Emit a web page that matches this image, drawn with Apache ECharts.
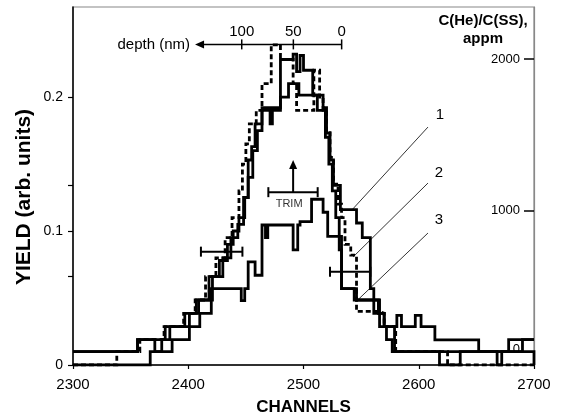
<!DOCTYPE html>
<html><head><meta charset="utf-8">
<script src="https://cdn.jsdelivr.net/npm/echarts@6/dist/echarts.min.js"></script>
<style>html,body{margin:0;padding:0;background:#fff}#c{width:561px;height:415px}</style>
</head><body><div id="c"></div>
<script>
// ---- data ----
const xTicks = [2300, 2400, 2500, 2600, 2700];
const yLeftLabels = [0, 0.1, 0.2];
const yLeftTicks = [0, 0.066, 0.1, 0.134, 0.2];
const yRightLabels = [0, 1000, 2000];
const yRightTicks = [1000, 2000];

// curve 1 (solid)
const c1x = [2300,2356,2380,2397,2407,2418,2427,2434,2439,2444,2449,2452,2455,2458,2464,2471,2473,2480,2491,2494,2497,2500,2508,2517,2520,2523,2526,2532,2546,2551,2558,2561,2565,2570,2581,2585,2597,2602,2614,2652,2678,2700];
const c1y = [0.01,0.019,0.0286,0.0386,0.0485,0.066,0.078,0.09,0.1,0.11,0.125,0.153,0.163,0.18,0.192,0.18,0.192,0.228,0.232,0.219,0.231,0.22,0.2015,0.192,0.173,0.153,0.134,0.116,0.106,0.095,0.057,0.0485,0.0386,0.0286,0.037,0.0286,0.037,0.0286,0.0187,0.01,0.019,0.019];
// curve 2 (dashed)
const c2x = [2300,2338,2358,2379,2396,2406,2415,2424,2432,2438,2444,2447,2450,2453,2459,2464,2472,2480,2491,2494,2509,2514,2517,2520,2523,2526,2530,2533,2536,2541,2546,2565,2570,2580,2625,2700];
const c2y = [0,0.01,0.019,0.0286,0.0386,0.0485,0.066,0.08,0.095,0.11,0.13,0.15,0.165,0.18,0.19,0.21,0.239,0.228,0.21,0.19,0.22,0.2,0.19,0.175,0.155,0.135,0.12,0.11,0.09,0.082,0.04,0.0386,0.0286,0.01,0,0];
// curve 3 (solid)
const c3x = [2300,2356,2371,2377,2384,2401,2409,2421,2430,2437,2443,2448,2452,2456,2460,2464,2480,2487,2496,2512,2519,2522,2525,2528,2531,2533,2544,2566,2570,2579,2618,2636,2668,2672,2690,2700];
const c3y = [0.01,0.019,0.01,0.019,0.0286,0.0386,0.0485,0.066,0.08,0.095,0.105,0.125,0.14,0.16,0.175,0.19,0.2,0.21,0.2015,0.19,0.17,0.15,0.13,0.11,0.086,0.057,0.0485,0.0386,0.0286,0.01,0,0.01,0,0.01,0.019,0.019];
// TRIM profile (solid)
const trimX = [2300,2367,2386,2401,2410,2420,2446,2449,2452,2458,2464,2467,2469,2491,2495,2497,2507,2517,2521,2533,2546,2561,2566,2572,2577,2700];
const trimY = [0,0.01,0.019,0.0286,0.0386,0.057,0.048,0.057,0.077,0.067,0.1045,0.095,0.1045,0.086,0.1045,0.107,0.1237,0.114,0.096,0.057,0.0485,0.0386,0.0286,0.019,0.01,0];

// annotations
const depthTickLabels = ['100', '50', '0'];
const depthTickChannels = [2446.4, 2491.2, 2533.1];
const depthLine = [2405.9, 2533.1, 0.2393];
const depthText = 'depth (nm)';
const errBars = [[2411, 2447, 0.0846], [2469.5, 2512.3, 0.129], [2523, 2558, 0.0696]];
const trimArrow = [2491, 0.129, 0.153];
const trimText = 'TRIM';
const curveNames = ['1', '2', '3'];
const namePos = [[2618.4, 0.1866], [2617.6, 0.1433], [2617.6, 0.1082]];
const leaderFrom = [[2608, 0.1776], [2608, 0.1358], [2608, 0.0985]];
const leaderTo = [[2542, 0.1157], [2543, 0.0806], [2547, 0.0485]];

const FONT = 'Liberation Sans, Arial, Helvetica, sans-serif';
const zip = (xs, ys) => xs.map((x, i) => [x, ys[i]]);

const stepLine = (name, xs, ys, dash) => ({
  name, type: 'line', step: 'end', data: zip(xs, ys), symbol: 'none',
  lineStyle: { color: '#000', width: 2.8, type: dash ? [5, 3] : 'solid', cap: 'butt', join: 'miter' },
  z: dash ? 4 : 3, silent: true, animation: false
});

const series = [
  stepLine('trim', trimX, trimY, false),
  stepLine('c3', c3x, c3y, false),
  stepLine('c1', c1x, c1y, false),
  stepLine('c2', c2x, c2y, true)
];

leaderFrom.forEach((p, i) => {
  series.push({ type: 'line', data: [p, leaderTo[i]], symbol: 'none', silent: true, animation: false,
    lineStyle: { color: '#000', width: 0.8 }, z: 6 });
});
series.push({
  type: 'custom', silent: true, animation: false, z: 7,
  data: namePos.map((p, i) => [p[0], p[1], i]),
  encode: { x: 0, y: 1 },
  renderItem: (params, api) => {
    const p = api.coord([api.value(0), api.value(1)]);
    return { type: 'text', x: p[0], y: p[1], style: { text: curveNames[api.value(2)], align: 'center', verticalAlign: 'middle', fontSize: 15, fontFamily: FONT, fill: '#000' } };
  }
});
series.push({
  type: 'custom', silent: true, animation: false, z: 8,
  data: errBars, encode: { x: [0, 1], y: 2 },
  renderItem: (params, api) => {
    const a = api.coord([api.value(0), api.value(2)]);
    const b = api.coord([api.value(1), api.value(2)]);
    const h = 5, st = { stroke: '#000', lineWidth: 2 };
    return { type: 'group', children: [
      { type: 'line', shape: { x1: a[0], y1: a[1], x2: b[0], y2: b[1] }, style: st },
      { type: 'line', shape: { x1: a[0], y1: a[1] - h, x2: a[0], y2: a[1] + h }, style: st },
      { type: 'line', shape: { x1: b[0], y1: b[1] - h, x2: b[0], y2: b[1] + h }, style: st }
    ] };
  }
});
series.push({
  type: 'custom', silent: true, animation: false, z: 8,
  data: [trimArrow], encode: { x: 0, y: [1, 2] },
  renderItem: (params, api) => {
    const a = api.coord([api.value(0), api.value(1)]);
    const b = api.coord([api.value(0), api.value(2)]);
    return { type: 'group', children: [
      { type: 'line', shape: { x1: a[0], y1: a[1], x2: b[0], y2: b[1] + 6 }, style: { stroke: '#000', lineWidth: 2 } },
      { type: 'polygon', shape: { points: [[b[0], b[1]], [b[0] - 4, b[1] + 9], [b[0] + 4, b[1] + 9]] }, style: { fill: '#000' } },
      { type: 'text', x: a[0] - 4, y: a[1] + 12, style: { text: trimText, align: 'center', verticalAlign: 'middle', fontSize: 11, fontFamily: FONT, fill: '#333' } }
    ] };
  }
});
series.push({
  type: 'custom', silent: true, animation: false, z: 8,
  data: [depthLine], encode: { x: [0, 1], y: 2 },
  renderItem: (params, api) => {
    const a = api.coord([api.value(0), api.value(2)]);
    const b = api.coord([api.value(1), api.value(2)]);
    return { type: 'group', children: [
      { type: 'line', shape: { x1: a[0] + 6, y1: a[1], x2: b[0], y2: b[1] }, style: { stroke: '#000', lineWidth: 1.5 } },
      { type: 'polygon', shape: { points: [[a[0], a[1]], [a[0] + 9, a[1] - 4], [a[0] + 9, a[1] + 4]] }, style: { fill: '#000' } },
      { type: 'text', x: a[0] - 5, y: a[1], style: { text: depthText, align: 'right', verticalAlign: 'middle', fontSize: 15, fontFamily: FONT, fill: '#000' } }
    ] };
  }
});
series.push({
  type: 'custom', silent: true, animation: false, z: 8,
  data: depthTickChannels.map((c, i) => [c, depthLine[2], i]), encode: { x: 0, y: 1 },
  renderItem: (params, api) => {
    const p = api.coord([api.value(0), api.value(1)]);
    return { type: 'group', children: [
      { type: 'line', shape: { x1: p[0], y1: p[1] - 5, x2: p[0], y2: p[1] + 5 }, style: { stroke: '#000', lineWidth: 1.5 } },
      { type: 'text', x: p[0], y: p[1] - 13, style: { text: depthTickLabels[api.value(2)], align: 'center', verticalAlign: 'middle', fontSize: 15, fontFamily: FONT, fill: '#000' } }
    ] };
  }
});

const chart = echarts.init(document.getElementById('c'), null, { renderer: 'canvas' });
chart.setOption({
  animation: false,
  backgroundColor: '#fff',
  textStyle: { fontFamily: FONT },
  grid: { left: 73, right: 27, top: 7, bottom: 50, containLabel: false, outerBoundsMode: 'none',
    show: true, borderColor: '#888', borderWidth: 1.2, backgroundColor: 'transparent' },
  xAxis: {
    type: 'value', min: xTicks[0], max: xTicks[xTicks.length - 1], interval: 100,
    name: 'CHANNELS', nameLocation: 'middle', nameGap: 34,
    nameTextStyle: { fontSize: 17, fontWeight: 'bold', color: '#000', fontFamily: FONT },
    axisLine: { lineStyle: { color: '#000', width: 1.5 } },
    axisTick: { show: true, inside: false, length: 4, lineStyle: { color: '#000', width: 1.2 } },
    axisLabel: { fontSize: 15, color: '#000', margin: 12, fontFamily: FONT, formatter: v => String(v) },
    splitLine: { show: false }
  },
  yAxis: [{
    type: 'value', min: 0, max: 0.2672, position: 'left',
    axisLine: { show: true, lineStyle: { color: '#000', width: 1.5 } },
    axisTick: { show: true, length: 5, customValues: yLeftTicks, lineStyle: { color: '#000', width: 1.2 } },
    axisLabel: { fontSize: 14, color: '#000', margin: 10, customValues: yLeftLabels, fontFamily: FONT },
    splitLine: { show: false }
  }, {
    type: 'value', min: -20, max: 2343, position: 'right',
    axisLine: { show: true, lineStyle: { color: '#888', width: 1.2 } },
    axisTick: { show: true, inside: true, length: 10, customValues: yRightTicks, lineStyle: { color: '#000', width: 1.5 } },
    axisLabel: { inside: true, fontSize: 13, color: '#000', margin: 14, customValues: yRightLabels, fontFamily: FONT,
      formatter: v => v === 0 ? '{z|0}' : String(v),
      rich: { z: { fontSize: 13, padding: [0, 0, 26, 0], fontFamily: FONT, color: '#000' } } },
    splitLine: { show: false }
  }],
  graphic: [{
    type: 'text', x: 483, y: 30, z: 10,
    style: { text: 'C(He)/C(SS),\nappm', align: 'center', verticalAlign: 'middle', lineHeight: 18,
      fontSize: 15, fontWeight: 'bold', fontFamily: FONT, fill: '#000' }
  }, {
    type: 'text', x: 24, y: 197, rotation: Math.PI / 2, z: 10,
    style: { text: 'YIELD (arb. units)', align: 'center', verticalAlign: 'middle',
      fontSize: 21, fontWeight: 'bold', fontFamily: FONT, fill: '#000' }
  }],
  series
});
</script></body></html>
